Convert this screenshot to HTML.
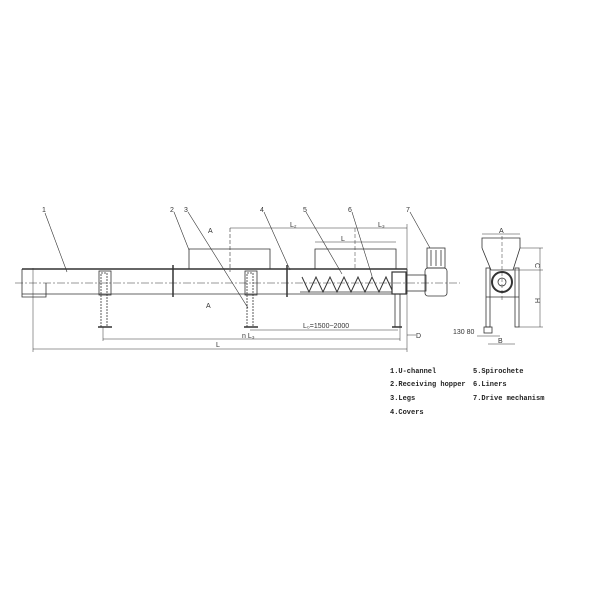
<!DOCTYPE html>
<html><head><style>
html,body{margin:0;padding:0;background:#fff;}
svg{display:block;}
text{font-family:"Liberation Sans",sans-serif;fill:#333;}
.lg{font-family:"Liberation Mono",monospace;font-size:7px;font-weight:bold;fill:#222;}
</style></head><body>
<svg width="600" height="600" viewBox="0 0 600 600" stroke="#333" fill="none" stroke-width="0.8">
<!-- centerline -->
<line x1="15" y1="283" x2="460" y2="283" stroke-dasharray="8 2 2 2" stroke-width="0.5"/>
<!-- trough -->
<line x1="22" y1="269" x2="407" y2="269" stroke-width="1.4"/>
<line x1="22" y1="294" x2="407" y2="294"/>
<polyline points="22,269 22,297 46,297 46,283"/>
<line x1="407" y1="269" x2="407" y2="294"/>
<!-- flanges -->
<line x1="173" y1="265" x2="173" y2="297" stroke-width="1.5"/>
<line x1="287" y1="265" x2="287" y2="297" stroke-width="1.5"/>
<!-- hoppers -->
<polyline points="189,269 189,249 270,249 270,269"/>
<polyline points="315,269 315,249 396,249 396,269"/>
<!-- legs -->
<rect x="99" y="271" width="12" height="24"/>
<rect x="101" y="273" width="6" height="54" stroke-dasharray="2 1"/>
<line x1="98" y1="327" x2="112" y2="327" stroke-width="1.5"/>
<rect x="245" y="271" width="12" height="24"/>
<rect x="247" y="273" width="6" height="54" stroke-dasharray="2 1"/>
<line x1="244" y1="327" x2="258" y2="327" stroke-width="1.5"/>
<rect x="395" y="294" width="5" height="33"/>
<line x1="392" y1="327" x2="402" y2="327" stroke-width="1.5"/>
<!-- screw -->
<polyline points="302,277 309,292 316,277 323,292 330,277 337,292 344,277 351,292 358,277 365,292 372,277 379,292 386,277 392,290" stroke-width="1"/>
<line x1="300" y1="292" x2="392" y2="292"/>
<rect x="392" y="272" width="14" height="22" stroke-width="1.2"/>
<rect x="406" y="275" width="20" height="16"/>
<!-- drive -->
<rect x="427" y="248" width="18" height="20"/>
<line x1="431" y1="250" x2="431" y2="266"/><line x1="436" y1="250" x2="436" y2="266"/><line x1="441" y1="250" x2="441" y2="266"/>
<rect x="425" y="268" width="22" height="28" rx="3"/>
<!-- dims -->
<line x1="230" y1="228" x2="407" y2="228" stroke-width="0.6"/>
<line x1="230" y1="228" x2="230" y2="272" stroke-width="0.6" stroke-dasharray="4 2"/>
<line x1="407" y1="224" x2="407" y2="352" stroke-width="0.5"/>
<line x1="315" y1="242" x2="396" y2="242" stroke-width="0.6"/>
<line x1="355" y1="228" x2="355" y2="269" stroke-width="0.5" stroke-dasharray="4 2"/>
<line x1="33" y1="349" x2="407" y2="349" stroke-width="0.6"/>
<line x1="33" y1="268" x2="33" y2="352" stroke-width="0.5"/>
<line x1="103" y1="339" x2="400" y2="339" stroke-width="0.6"/>
<line x1="103" y1="327" x2="103" y2="341" stroke-width="0.5"/>
<line x1="250" y1="330" x2="398" y2="330" stroke-width="0.6"/>
<line x1="400" y1="327" x2="400" y2="341" stroke-width="0.5"/>
<line x1="407" y1="335" x2="416" y2="335" stroke-width="0.5"/>
<!-- leaders -->
<line x1="45" y1="213" x2="67" y2="272" stroke-width="0.6"/>
<line x1="174" y1="212" x2="189" y2="250" stroke-width="0.6"/>
<line x1="188" y1="212" x2="248" y2="308" stroke-width="0.6"/>
<line x1="264" y1="212" x2="290" y2="270" stroke-width="0.6"/>
<line x1="306" y1="212" x2="342" y2="274" stroke-width="0.6"/>
<line x1="352" y1="212" x2="372" y2="276" stroke-width="0.6"/>
<line x1="410" y1="212" x2="430" y2="248" stroke-width="0.6"/>
<!-- cross section -->
<polyline points="482,248 482,238 520,238 520,248"/>
<polyline points="482,248 491,270 513,270 520,248"/>
<circle cx="502" cy="282" r="10" stroke-width="2"/>
<circle cx="502" cy="282" r="4"/>
<rect x="486" y="268" width="4" height="59"/>
<rect x="515" y="268" width="4" height="59"/>
<line x1="486" y1="297" x2="519" y2="297"/>
<rect x="484" y="327" width="8" height="6"/>
<line x1="482" y1="234" x2="520" y2="234" stroke-width="0.5"/>
<line x1="502" y1="236" x2="502" y2="300" stroke-width="0.5" stroke-dasharray="4 2"/>
<line x1="540" y1="248" x2="540" y2="327" stroke-width="0.5"/>
<line x1="520" y1="248" x2="543" y2="248" stroke-width="0.5"/>
<line x1="513" y1="270" x2="543" y2="270" stroke-width="0.5"/>
<line x1="519" y1="327" x2="543" y2="327" stroke-width="0.5"/>
<line x1="477" y1="336" x2="500" y2="336" stroke-width="0.5"/>
<line x1="488" y1="344" x2="515" y2="344" stroke-width="0.5"/>
<g stroke="none" font-size="7">
<text x="42" y="212">1</text><text x="170" y="212">2</text><text x="184" y="212">3</text>
<text x="260" y="212">4</text><text x="303" y="212">5</text><text x="348" y="212">6</text><text x="406" y="212">7</text>
<text x="208" y="233">A</text><text x="206" y="308">A</text>
<text x="290" y="227">L₂</text><text x="378" y="227">L₃</text><text x="341" y="241">L</text>
<text x="303" y="328">L₀=1500~2000</text>
<text x="242" y="338">n  L₃</text><text x="216" y="347">L</text>
<text x="416" y="338">D</text>
<text x="499" y="233">A</text>
<text x="535" y="263" transform="rotate(90 535 263)">C</text>
<text x="535" y="298" transform="rotate(90 535 298)">H</text>
<text x="453" y="334">130  80</text><text x="498" y="343">B</text>
</g>
<g stroke="none">
<text class="lg" x="390" y="373">1.U-channel</text>
<text class="lg" x="390" y="386">2.Receiving hopper</text>
<text class="lg" x="390" y="400">3.Legs</text>
<text class="lg" x="390" y="414">4.Covers</text>
<text class="lg" x="473" y="373">5.Spirochete</text>
<text class="lg" x="473" y="386">6.Liners</text>
<text class="lg" x="473" y="400">7.Drive mechanism</text>
</g>
</svg>
</body></html>
